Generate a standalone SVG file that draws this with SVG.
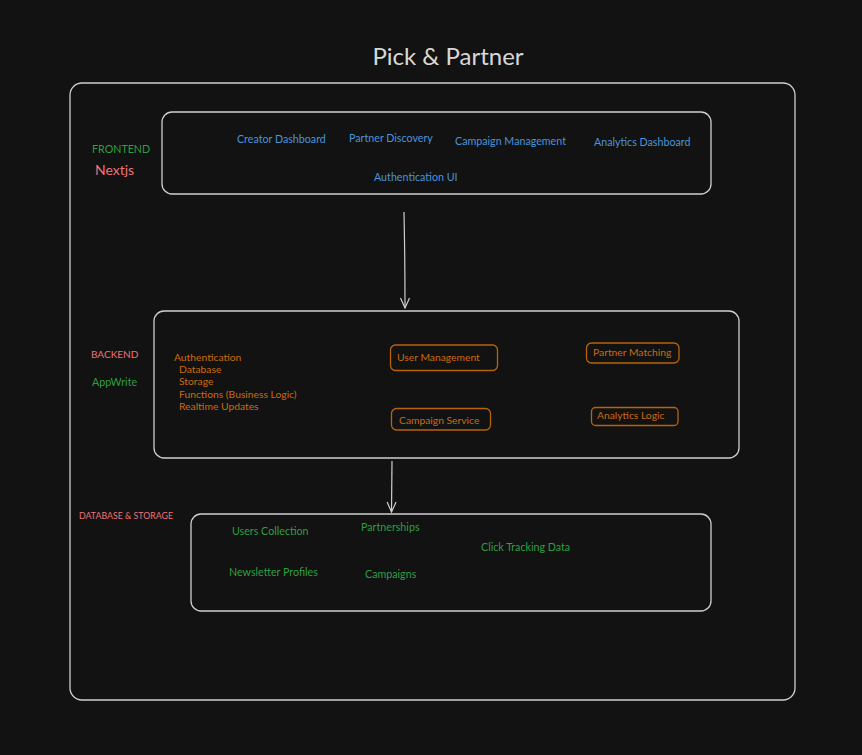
<svg xmlns="http://www.w3.org/2000/svg" width="862" height="755" viewBox="0 0 862 755">
<defs>
<marker id="arr" viewBox="0 0 12 12" refX="11" refY="6" markerWidth="12" markerHeight="12" markerUnits="userSpaceOnUse" orient="auto">
<path d="M1,1.5 L11,6 L1,10.5" fill="none" stroke="#cfcfcf" stroke-width="1.2"/>
</marker>
</defs>
<style>
text{font-family:Lato,"Noto Sans","Liberation Sans",sans-serif}
.frame{fill:none;stroke:#cfcfcf;stroke-width:1.3}
.blue{fill:#4a94dc;font-size:10.7px}
.green{fill:#2f9e44;font-size:10.7px}
.pink{fill:#ee7378}
.org{fill:#c96b0c;font-size:10.3px}
.obox{fill:none;stroke:#b8620a;stroke-width:1.3}
.conn{stroke:#cfcfcf;stroke-width:1.2;fill:none}
</style>
<rect width="862" height="755" fill="#121212"/>
<text x="448" y="65" text-anchor="middle" font-size="24" fill="#d8d8d8">Pick &amp; Partner</text>
<g id="container"><rect class="frame" x="70" y="83" width="725" height="617" rx="12"/></g>
<g id="frontend">
<rect class="frame" x="162" y="112" width="549" height="82" rx="10"/>
<text x="92" y="153" class="green" font-size="9.8">FRONTEND</text>
<text x="95" y="175" class="pink" font-size="14">Nextjs</text>
<text x="237" y="142.5" class="blue">Creator Dashboard</text>
<text x="349" y="141.5" class="blue">Partner Discovery</text>
<text x="455" y="144.5" class="blue">Campaign Management</text>
<text x="594" y="145.5" class="blue">Analytics Dashboard</text>
<text x="374" y="180.5" class="blue">Authentication UI</text>
</g>
<g id="backend">
<rect class="frame" x="154" y="311" width="585" height="147" rx="10"/>
<text x="91" y="358" class="pink" font-size="10">BACKEND</text>
<text x="92" y="386" class="green" font-size="15">AppWrite</text>
<text x="174" y="361" class="org">Authentication</text>
<text x="179" y="373" class="org">Database</text>
<text x="179" y="385" class="org">Storage</text>
<text x="179" y="398" class="org">Functions (Business Logic)</text>
<text x="179" y="410" class="org">Realtime Updates</text>
</g>
<g id="user-management"><rect class="obox" x="390.5" y="345" width="107" height="25.5" rx="5"/><text x="397" y="361" class="org">User Management</text></g>
<g id="partner-matching"><rect class="obox" x="586.5" y="343" width="92.5" height="20" rx="5"/><text x="593" y="356" class="org">Partner Matching</text></g>
<g id="campaign-service"><rect class="obox" x="391.5" y="408.5" width="99" height="21.5" rx="5"/><text x="399" y="424" class="org">Campaign Service</text></g>
<g id="analytics-logic"><rect class="obox" x="591.5" y="407.5" width="86.5" height="18" rx="4"/><text x="597" y="419" class="org">Analytics Logic</text></g>
<g id="database">
<rect class="frame" x="191" y="514" width="520" height="97" rx="10"/>
<text x="79" y="519" class="pink" font-size="8.8">DATABASE &amp; STORAGE</text>
<text x="232" y="534.5" class="green">Users Collection</text>
<text x="361" y="530.5" class="green">Partnerships</text>
<text x="481" y="550.5" class="green">Click Tracking Data</text>
<text x="229" y="575.5" class="green">Newsletter Profiles</text>
<text x="365" y="577.5" class="green">Campaigns</text>
</g>
<g id="connectors">
<path class="conn" d="M404,212 Q405,260 405,308" marker-end="url(#arr)"/>
<path class="conn" d="M392,461 L391.5,512" marker-end="url(#arr)"/>
</g>
</svg>
